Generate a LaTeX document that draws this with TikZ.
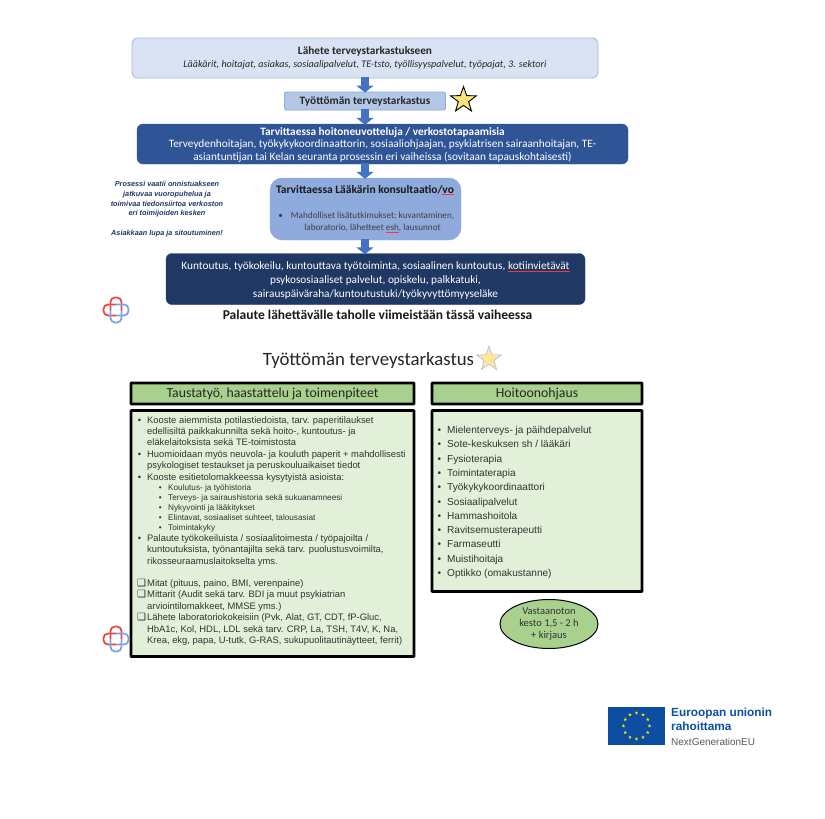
\documentclass[tikz,border=0pt]{standalone}
\usepackage{fontspec}
\setmainfont{Carlito}
\newfontfamily\arial{Liberation Sans}
\newfontfamily\symb{DejaVu Sans}
\usetikzlibrary{shapes.geometric,arrows.meta}
\definecolor{vaalea}{HTML}{DAE3F3}
\definecolor{reuna}{HTML}{A9BCE0}
\definecolor{keski}{HTML}{B4C7E7}
\definecolor{laake}{HTML}{8FAADC}
\definecolor{tumma}{HTML}{2F5597}
\definecolor{yotumma}{HTML}{1F3864}
\definecolor{nuoli}{HTML}{4472C4}
\definecolor{vihrea}{HTML}{A9D18E}
\definecolor{vaalvihrea}{HTML}{E2F0D9}
\definecolor{logored}{HTML}{E8474C}
\definecolor{logoblue}{HTML}{7FA3DE}
\definecolor{eublue}{HTML}{0B4EA2}
\definecolor{euyellow}{HTML}{FFDD00}
\definecolor{tahtikeltainen}{HTML}{FFE27A}
\definecolor{tahtivaalea}{HTML}{FFE699}
\newcommand{\fs}[1]{\fontsize{#1}{#1}\selectfont}
\newlength{\spelllen}
\newcommand{\spell}[1]{\settowidth{\spelllen}{#1}\rlap{\color{red!80}\rule[-1.6pt]{\spelllen}{0.35pt}}#1}
\newcommand{\bul}{\llap{\textbullet\hspace{6pt}}}
\newcommand{\sbul}{\llap{\textbullet\hspace{6.5pt}}}
\newcommand{\chk}{\llap{{\symb\fs{10}❑}\hspace{1pt}}}
\tikzset{
  flowbox/.style={draw,rounded corners=6pt,align=center,inner sep=0pt},
  blockarrow/.style={draw=nuoli,line width=8pt,-{Triangle[width=17pt,length=7pt]},shorten <=-1pt,shorten >=-1pt},
  headbox/.style={draw=black,line width=2.6pt,fill=vihrea,rounded corners=0.5pt,inner sep=0pt,text=black!85,font=\fs{13.8}},
  bodybox/.style={draw=black,line width=2.6pt,fill=vaalvihrea,rounded corners=0.5pt,inner sep=0pt},
  rivi/.style={anchor=base west,inner sep=0pt,text=black!80,font=\arial\fs{9.4}},
  pieni/.style={rivi,font=\arial\fs{8.2}},
  hoitorivi/.style={rivi,font=\arial\fs{10.1}},
  logo/.pic={
    \draw[logored,line width=1.8pt,rounded corners=4.5pt] (-5.5,0)--(-5.5,-12.5)--(5.5,-12.5)--(5.5,0);
    \draw[logored,line width=1.8pt,rounded corners=4.5pt] (0,-5.5)--(-12.5,-5.5)--(-12.5,5.5)--(0,5.5);
    \draw[logoblue,line width=1.8pt,rounded corners=4.5pt] (-5.5,0)--(-5.5,12.5)--(5.5,12.5)--(5.5,0);
    \draw[logoblue,line width=1.8pt,rounded corners=4.5pt] (0,-5.5)--(12.5,-5.5)--(12.5,5.5)--(0,5.5);
  }
}
\begin{document}
\begin{tikzpicture}[x=1pt,y=-1pt]
\useasboundingbox (0,0) rectangle (825,819);

% vuokaavio
\node[flowbox,draw=reuna,line width=0.9pt,fill=vaalea,minimum width=466pt,minimum height=40pt,text=black!85] (lahete) at (365,58)
  {{\fs{11.3}\bfseries Lähete terveystarkastukseen}\\[1pt]{\fs{10.1}\itshape Lääkärit, hoitajat, asiakas, sosiaalipalvelut, TE-tsto, työllisyyspalvelut, työpajat, 3. sektori}};
\node[flowbox,rounded corners=2pt,draw=laake,line width=0.9pt,fill=keski,minimum width=161pt,minimum height=18pt,font=\fs{11.3}\bfseries,text=black!85] (tarkastus) at (365,101) {Työttömän terveystarkastus};
\node[star,star points=5,star point ratio=2.5,draw=black,line width=0.9pt,fill=tahtikeltainen,minimum size=27pt,inner sep=0pt] (tahti) at (463.5,100) {};
\node[flowbox,draw=tumma,fill=tumma,minimum width=491pt,minimum height=40pt,text=white] (neuvottelu) at (382.5,144) {};
\node[align=center,inner sep=0pt,text=white,font=\fs{11.3}] (neuvotteluteksti) at (382.5,145)
  {{\bfseries Tarvittaessa hoitoneuvotteluja / verkostotapaamisia}\\[0.8pt]
   Terveydenhoitajan, työkykykoordinaattorin, sosiaaliohjaajan, psykiatrisen sairaanhoitajan, TE-\\[0.8pt]
   asiantuntijan tai Kelan seuranta prosessin eri vaiheissa (sovitaan tapauskohtaisesti)};
\node[flowbox,rounded corners=12pt,draw=laake,fill=laake,minimum width=191pt,minimum height=62pt] (laakari) at (365.5,209) {};
\node[font=\fs{11.5}\bfseries,text=black!90,inner sep=0pt] (laakotsikko) at (365,190) {Tarvittaessa Lääkärin konsultaatio/\spell{vo}};
\node[font=\fs{9.2},text=black!75,align=center,inner sep=0pt] (laakteksti) at (372.5,222)
  {\llap{\textbullet\hspace{8pt}}Mahdolliset lisätutkimukset; kuvantaminen,\\[2.7pt]laboratorio, lähetteet \spell{esh}, lausunnot};
\node[flowbox,draw=yotumma,fill=yotumma,minimum width=419pt,minimum height=51pt] (kuntoutus) at (375.5,279) {};
\node[align=center,inner sep=0pt,text=white,font=\fs{11.3}] (kuntoutusteksti) at (375.5,280.5)
  {Kuntoutus, työkokeilu, kuntouttava työtoiminta, sosiaalinen kuntoutus, \spell{kotiinvietävät}\\[2.5pt]
   psykososiaaliset palvelut, opiskelu, palkkatuki,\\[2.5pt]
   sairauspäiväraha/kuntoutustuki/työkyvyttömyyseläke};
\node[font=\fs{13.5}\bfseries,text=black!90,inner sep=0pt] (palaute) at (377.5,315) {Palaute lähettävälle taholle viimeistään tässä vaiheessa};
\node[font=\arial\fs{7.3}\bfseries\itshape,text=yotumma,align=center,inner sep=0pt] (prosessi) at (167,209)
  {Prosessi vaatii onnistuakseen\\[2.5pt]jatkuvaa vuoropuhelua ja\\[2.5pt]toimivaa tiedonsiirtoa verkoston\\[2.5pt]eri toimijoiden kesken\\[12pt]Asiakkaan lupa ja sitoutuminen!};

\draw[blockarrow] (lahete.south) -- (tarkastus.north);
\draw[blockarrow] (tarkastus.south) -- (tarkastus.south |- neuvottelu.north);
\draw[blockarrow] (tarkastus.south |- neuvottelu.south) -- (tarkastus.south |- laakari.north);
\draw[blockarrow] (tarkastus.south |- laakari.south) -- (tarkastus.south |- kuntoutus.north);

\pic at (116,310) {logo};

% alempi osa
\node[font=\fs{18.8},text=black!85,inner sep=0pt] (otsikko) at (368.5,360) {Työttömän terveystarkastus};
\node[star,star points=5,star point ratio=2.5,draw=reuna,line width=0.6pt,fill=tahtivaalea,minimum size=26pt,inner sep=0pt] (tahti2) at (489,359) {};

\node[headbox,minimum width=283pt,minimum height=21pt] (tausta) at (272.5,393.5) {Taustatyö, haastattelu ja toimenpiteet};
\node[headbox,minimum width=210pt,minimum height=21pt] (hoito) at (537,393.5) {Hoitoonohjaus};
\node[bodybox,minimum width=283pt,minimum height=246pt] (taustateksti) at (272.5,533.5) {};
\node[bodybox,minimum width=210pt,minimum height=181pt] (hoitoteksti) at (537,501) {};

\foreach \ypos/\txt in {423.5/{\bul Kooste aiemmista potilastiedoista, tarv. paperitilaukset},
    434.5/{edellisiltä paikkakunnilta sekä hoito-, kuntoutus- ja},
    445.5/{eläkelaitoksista sekä TE-toimistosta},
    457/{\bul Huomioidaan myös neuvola- ja kouluth paperit + mahdollisesti},
    468.5/{psykologiset testaukset ja peruskouluaikaiset tiedot},
    480/{\bul Kooste esitietolomakkeessa kysytyistä asioista:},
    541/{\bul Palaute työkokeiluista / sosiaalitoimesta / työpajoilta /},
    552.5/{kuntoutuksista, työnantajilta sekä tarv. puolustusvoimilta,},
    564/{rikosseuraamuslaitokselta yms.},
    586/{\chk Mitat (pituus, paino, BMI, verenpaine)},
    597.5/{\chk Mittarit (Audit sekä tarv. BDI ja muut psykiatrian},
    609/{arviointilomakkeet, MMSE yms.)},
    620.5/{\chk Lähete laboratoriokokeisiin (Pvk, Alat, GT, CDT, fP-Gluc,},
    632/{HbA1c, Kol, HDL, LDL sekä tarv. CRP, La, TSH, T4V, K, Na,},
    643.5/{Krea, ekg, papa, U-tutk, G-RAS, sukupuolitautinäytteet, ferrit)}}
  \node[rivi] (t\ypos) at (147,\ypos) {\txt};

\foreach \ypos/\txt in {490.5/{Koulutus- ja työhistoria},
    500.5/{Terveys- ja sairaushistoria sekä sukuanamneesi},
    510.5/{Nykyvointi ja lääkitykset},
    520.5/{Elintavat, sosiaaliset suhteet, talousasiat},
    530.5/{Toimintakyky}}
  \node[pieni] (p\ypos) at (168,\ypos) {\sbul\txt};

\foreach \ypos/\txt in {433.5/{Mielenterveys- ja päihdepalvelut},
    447.8/{Sote-keskuksen sh / lääkäri},
    462.1/{Fysioterapia},
    476.4/{Toimintaterapia},
    490.7/{Työkykykoordinaattori},
    505/{Sosiaalipalvelut},
    519.3/{Hammashoitola},
    533.6/{Ravitsemusterapeutti},
    547.9/{Farmaseutti},
    562.2/{Muistihoitaja},
    576.7/{Optikko (omakustanne)}}
  \node[hoitorivi] (h\ypos) at (447,\ypos) {\bul\txt};

\node[ellipse,draw=black,line width=1pt,fill=vihrea,minimum width=98pt,minimum height=49pt,inner sep=0pt,align=center,font=\fs{10.5},text=black!80] (kesto) at (549,624)
  {Vastaanoton\\[1.5pt]kesto 1,5 - 2 h\\[1.5pt]+ kirjaus};

\pic at (116,639) {logo};

% EU-lippu
\node[draw=none,fill=eublue,minimum width=57pt,minimum height=38pt,inner sep=0pt] (lippu) at (636.5,726) {};
\foreach \a in {0,30,...,330}
  \node[star,star points=5,star point ratio=2.4,fill=euyellow,minimum size=3.6pt,inner sep=0pt] (eu\a) at ([shift={(\a:13)}]lippu.center) {};
\node[anchor=base west,font=\arial\fs{11.8}\bfseries,text=eublue,inner sep=0pt] (eu1) at (671,716) {Euroopan unionin};
\node[anchor=base west,font=\arial\fs{11.8}\bfseries,text=eublue,inner sep=0pt] (eu2) at (671,730.5) {rahoittama};
\node[anchor=base west,font=\arial\fs{10},text=black!65,inner sep=0pt] (eu3) at (671,745) {NextGenerationEU};
\end{tikzpicture}
\end{document}
